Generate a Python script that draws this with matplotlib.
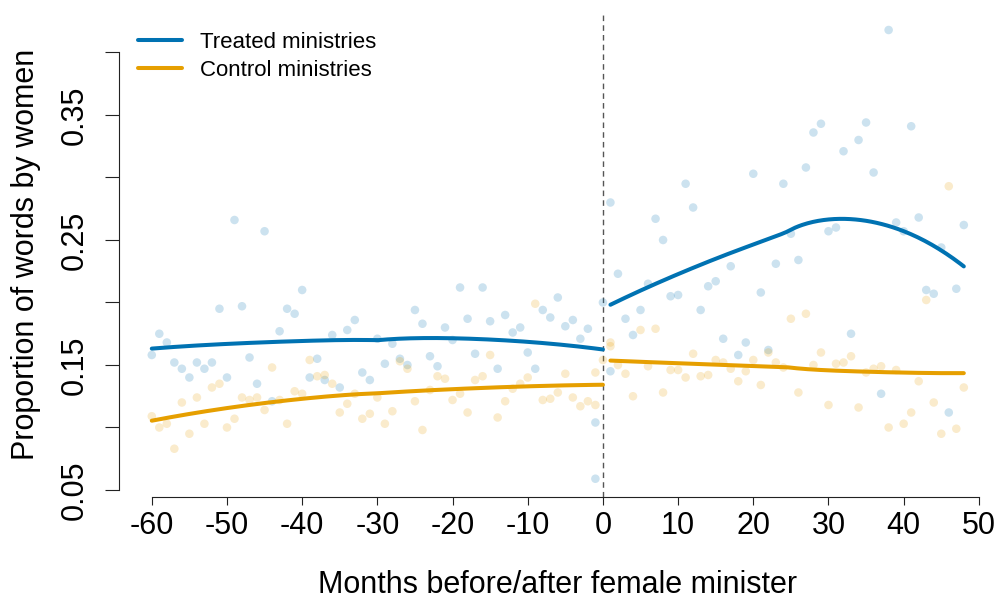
import numpy as np
import matplotlib
matplotlib.use("Agg")
import matplotlib.pyplot as plt

plt.rcParams['font.family'] = ['Liberation Sans', 'DejaVu Sans']

# Monthly share of words spoken by women, relative to the month a female minister took office
treated_month = [-60, -59, -58, -57, -56, -55, -54, -53, -52, -51, -50, -49, -48, -47, -46, -45,
                 -44, -43, -42, -41, -40, -39, -38, -37, -36, -35, -34, -33, -32, -31, -30, -29,
                 -28, -27, -26, -25, -24, -23, -22, -21, -20, -19, -18, -17, -16, -15, -14, -13,
                 -12, -11, -10, -9, -8, -7, -6, -5, -4, -3, -2, -1, -1, 0,
                 1, 1, 2, 3, 4, 5, 6, 7, 8, 9, 10, 11, 12, 13, 14, 15, 16, 17, 18, 19, 20, 21,
                 22, 23, 24, 25, 26, 27, 28, 29, 30, 31, 32, 33, 34, 35, 36, 37, 38, 39, 40, 41,
                 42, 43, 44, 45, 46, 47, 48]
treated_share = [0.158, 0.175, 0.168, 0.152, 0.147, 0.140, 0.152, 0.147, 0.152, 0.195, 0.140, 0.266,
                 0.197, 0.156, 0.135, 0.257, 0.121, 0.177, 0.195, 0.191, 0.210, 0.140, 0.155, 0.138,
                 0.174, 0.132, 0.178, 0.186, 0.144, 0.138, 0.171, 0.151, 0.167, 0.155, 0.150, 0.194,
                 0.183, 0.157, 0.149, 0.180, 0.170, 0.212, 0.187, 0.159, 0.212, 0.185, 0.147, 0.190,
                 0.176, 0.180, 0.160, 0.147, 0.194, 0.188, 0.204, 0.181, 0.186, 0.171, 0.179, 0.104,
                 0.059, 0.200,
                 0.280, 0.145, 0.223, 0.187, 0.174, 0.194, 0.215, 0.267, 0.250, 0.205, 0.206, 0.295,
                 0.276, 0.194, 0.213, 0.217, 0.171, 0.229, 0.158, 0.168, 0.303, 0.208, 0.162, 0.231,
                 0.295, 0.255, 0.234, 0.308, 0.336, 0.343, 0.257, 0.260, 0.321, 0.175, 0.330, 0.344,
                 0.304, 0.127, 0.418, 0.264, 0.257, 0.341, 0.268, 0.210, 0.207, 0.244, 0.112, 0.211,
                 0.262]

control_month = [-60, -59, -58, -57, -56, -55, -54, -53, -52, -51, -50, -49, -48, -47, -46, -45,
                 -44, -43, -42, -41, -40, -39, -38, -37, -36, -35, -34, -33, -32, -31, -30, -29,
                 -28, -27, -26, -25, -24, -23, -22, -21, -20, -19, -18, -17, -16, -15, -14, -13,
                 -12, -11, -10, -9, -8, -7, -6, -5, -4, -3, -2, -1, -1, 0,
                 1, 1, 2, 3, 4, 5, 6, 7, 8, 9, 10, 11, 12, 13, 14, 15, 16, 17, 18, 19, 20, 21,
                 22, 23, 24, 25, 26, 27, 28, 29, 30, 31, 32, 33, 34, 35, 36, 37, 38, 39, 40, 41,
                 42, 43, 44, 45, 46, 47, 48]
control_share = [0.109, 0.100, 0.103, 0.083, 0.120, 0.095, 0.124, 0.103, 0.132, 0.135, 0.100, 0.107,
                 0.124, 0.122, 0.124, 0.114, 0.148, 0.122, 0.103, 0.129, 0.127, 0.154, 0.141, 0.142,
                 0.135, 0.112, 0.119, 0.127, 0.107, 0.111, 0.124, 0.103, 0.113, 0.153, 0.147, 0.121,
                 0.098, 0.130, 0.141, 0.139, 0.122, 0.127, 0.112, 0.138, 0.141, 0.158, 0.108, 0.121,
                 0.131, 0.135, 0.140, 0.199, 0.122, 0.123, 0.128, 0.143, 0.124, 0.117, 0.121, 0.144,
                 0.118, 0.154,
                 0.168, 0.165, 0.150, 0.143, 0.125, 0.178, 0.149, 0.179, 0.128, 0.146, 0.146, 0.140,
                 0.159, 0.141, 0.142, 0.154, 0.152, 0.147, 0.137, 0.145, 0.154, 0.134, 0.160, 0.152,
                 0.148, 0.187, 0.128, 0.191, 0.150, 0.160, 0.118, 0.151, 0.152, 0.157, 0.116, 0.144,
                 0.147, 0.149, 0.100, 0.146, 0.103, 0.112, 0.137, 0.202, 0.120, 0.095, 0.293, 0.099,
                 0.132]

series_labels = ["Treated ministries", "Control ministries"]
x_ticks = [-60, -50, -40, -30, -20, -10, 0, 10, 20, 30, 40, 50]
y_ticks = [0.05, 0.10, 0.15, 0.20, 0.25, 0.30, 0.35, 0.40]
y_tick_labels = ["0.05", "", "0.15", "", "0.25", "", "0.35", ""]

BLUE = "#0072B2"
ORANGE = "#E69F00"
SPAN = 1.3


def loess(x, y, grid, span=SPAN, degree=2):
    """Local quadratic regression with tricube weights; span > 1 widens the window."""
    x = np.asarray(x, float)
    y = np.asarray(y, float)
    q = int(np.floor(len(x) * min(span, 1.0)))
    out = []
    for x0 in grid:
        d = np.abs(x - x0)
        h = np.sort(d)[q - 1] * max(span, 1.0)
        w = np.clip(1 - (d / h) ** 3, 0, None) ** 3
        coef = np.polyfit(x - x0, y, degree, w=np.sqrt(w))
        out.append(coef[-1])
    return np.array(out)


fig = plt.figure(figsize=(10, 6.03), dpi=100)
ax = fig.add_axes([0.1193, 0.1758, 0.877, 0.8043])

for months, share, color in [(treated_month, treated_share, BLUE),
                             (control_month, control_share, ORANGE)]:
    ax.scatter(months, share, s=38, color=color, alpha=0.2, edgecolors='none', zorder=2)

ax.axvline(0, color="#555555", lw=1.0, ls=(0, (4, 3)), zorder=1)

handles = []
for months, share, color, label in [(treated_month, treated_share, BLUE, series_labels[0]),
                                    (control_month, control_share, ORANGE, series_labels[1])]:
    m = np.asarray(months, float)
    v = np.asarray(share, float)
    for side in (m <= 0, m >= 1):
        grid = np.linspace(m[side].min(), m[side].max(), 200)
        fit = loess(m[side], v[side], grid)
        line, = ax.plot(grid, fit, color=color, lw=2.9, solid_capstyle='round', zorder=3)
    line.set_label(label)
    handles.append(line)

ax.set_xlim(-64.32, 52.32)
ax.set_ylim(0.0444, 0.4324)

for s in ("top", "right"):
    ax.spines[s].set_visible(False)
ax.spines["left"].set_bounds(0.05, 0.40)
ax.spines["bottom"].set_bounds(-60, 50)
for s in ("left", "bottom"):
    ax.spines[s].set_linewidth(0.8)
    ax.spines[s].set_color("#222222")

ax.set_xticks(x_ticks)
ax.set_xticklabels([str(t) for t in x_ticks])
ax.set_yticks(y_ticks)
ax.set_yticklabels(y_tick_labels, rotation=90, va="center")
ax.tick_params(axis="y", length=10, width=0.8, color="#222222", pad=11, labelsize=22)
ax.tick_params(axis="x", length=6, width=0.8, color="#222222", pad=4, labelsize=22)

ax.set_xlabel("Months before/after female minister", fontsize=22, labelpad=21)
ax.set_ylabel("Proportion of words by women", fontsize=22, labelpad=14)

ax.legend(handles=handles, loc="upper left", bbox_to_anchor=(-0.0015, 1.0), frameon=False,
          fontsize=16, handlelength=2.0, handletextpad=0.8, labelspacing=0.3)

fig.savefig("out.png", dpi=100)
